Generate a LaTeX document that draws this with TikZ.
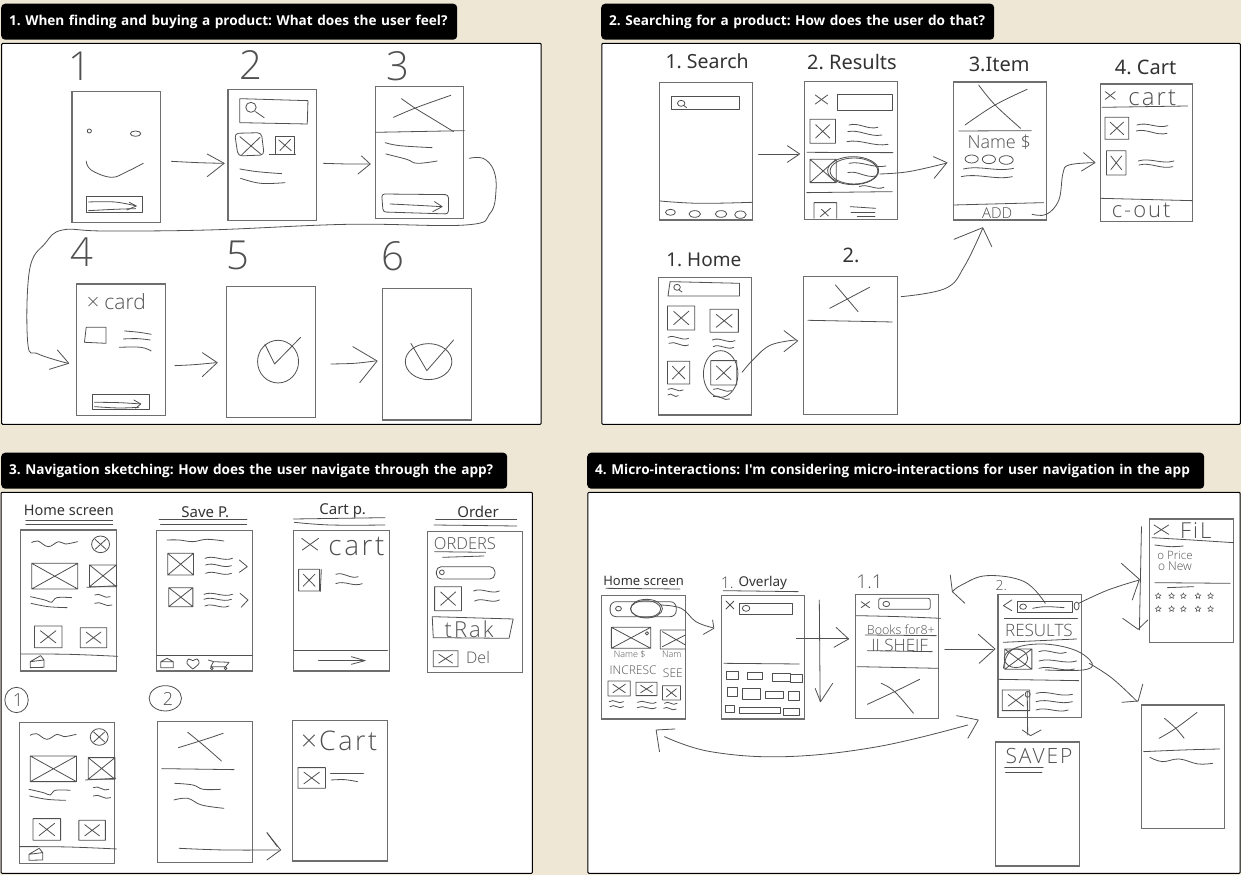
\documentclass[tikz,border=0pt]{standalone}
\usepackage{fontspec}
\usetikzlibrary{calc,shapes.geometric}
\setmainfont{Noto Sans}
\newfontfamily\hand{Open Sans Light}
\newfontfamily\handwide[LetterSpace=9]{Open Sans Light}
\newfontfamily\ttl{Open Sans}
\definecolor{paper}{HTML}{EFE7D6}
\definecolor{inkc}{HTML}{505050}
\definecolor{framec}{HTML}{6E6E6E}
\tikzset{
 ink/.style={draw=inkc,line width=.8pt,line cap=round,line join=round},
 frame/.style={draw=framec,line width=1.1pt},
 panel/.style={draw=black,line width=1pt,fill=white,rounded corners=1pt},
 titlebox/.style={fill=black,text=white,rounded corners=4pt,anchor=north west,minimum height=36pt,inner xsep=8pt,inner ysep=0pt,align=left,font=\ttl\bfseries\fontsize{13.6}{15}\selectfont},
 printed/.style={inner sep=0pt,text=black!80},
 handtext/.style={inner sep=0pt,text=inkc},
 rate/.style={star,star points=5,star point ratio=2.1,draw=inkc,line width=.5pt,inner sep=0pt,minimum size=6pt}
}
\newcommand\sk[1]{\draw[ink] plot[smooth,tension=.65] coordinates {#1};}
\newcommand\pl[1]{\draw[ink] plot coordinates {#1};}
\newcommand\wv[4]{\draw[ink] (#1,#2) .. controls ($(#1,#2)!.33!(#3,#4)+(0,-11)$) and ($(#1,#2)!.66!(#3,#4)+(0,11)$) .. (#3,#4);}
\newcommand\scr[4]{\draw[frame] (#1,#2) rectangle (#3,#4);}
\newcommand\bx[4]{\draw[ink] (#1,#2) rectangle (#3,#4);}
\newcommand\imgx[4]{\draw[ink] (#1,#2) rectangle (#3,#4) (#1,#2) -- (#3,#4) (#1,#4) -- (#3,#2);}
\newcommand\imgs[4]{\draw[ink] (#1,#2) rectangle (#3,#4) ($(#1,#2)!.22!(#3,#4)$) -- ($(#1,#2)!.78!(#3,#4)$) ($(#1,#4)!.22!(#3,#2)$) -- ($(#1,#4)!.78!(#3,#2)$);}
\newcommand\el[4]{\draw[ink] (#1,#2) ellipse [x radius=#3,y radius=#4];}
\newcommand\hw[4]{\node[handtext,font=\hand\fontsize{#3}{#3}\selectfont] (#1) at (#2) {#4};}
\newcommand\hz[4]{\node[handtext,font=\handwide\fontsize{#3}{#3}\selectfont] (#1) at (#2) {#4};}
\newcommand\pr[4]{\node[printed,font=\fontsize{#3}{#3}\selectfont] (#1) at (#2) {#4};}
\newcommand\homeSketch{%
 \sk{(92,293)(110,288)(140,305)(170,290)(190,297)(225,290)}
 \el{292}{298}{26}{25}
 \pl{(276,283)(308,313)} \pl{(276,313)(308,283)}
 \imgx{92}{355}{226}{432}
 \imgx{260}{360}{338}{425}
 \pl{(252,427)(340,422)}
 \sk{(88,455)(130,465)(150,472)(165,458)(208,458)}
 \sk{(90,475)(140,485)(195,488)}
 \wv{275}{450}{320}{455}
 \wv{275}{475}{325}{480}
 \imgs{100}{543}{180}{608}
 \imgs{233}{548}{310}{608}
 \sk{(60,627)(200,628)(342,634)}
 \pl{(88,650)(128,645)(128,667)(88,668)(88,650)(118,632)(128,645)}
}
\begin{document}
\frenchspacing
\begin{tikzpicture}[x=1pt,y=-1pt]
\useasboundingbox (0,0) rectangle (1241,875);
\fill[paper] (0,0) rectangle (1241,875);
% titles
\node[titlebox,text width=440pt] (t1) at (1,3.5) {1. When finding and buying a product: What does the user feel?};
\node[titlebox,text width=377pt] (t2) at (601,3.5) {2. Searching for a product: How does the user do that?};
\node[titlebox,text width=490pt] (t3) at (1,452.5) {3. Navigation sketching: How does the user navigate through the app?};
\node[titlebox,text width=601pt] (t4) at (587,452.5) {4. Micro-interactions: I'm considering micro-interactions for user navigation in the app};
% ---------- panel 1
\begin{scope}[shift={(0,0)},x=.3476pt,y=-.3333pt]
\draw[panel] (5,130) rectangle (1557,1273);
\hw{a1}{231,200}{40}{1}
\hw{a2}{722,195}{40}{2}
\hw{a3}{1145,200}{40}{3}
\hw{a4}{235,758}{40}{4}
\hw{a5}{685,765}{40}{5}
\hw{a6}{1130,770}{40}{6}
\scr{207}{275}{462}{668}\scr{656}{268}{910}{662}\scr{1080}{260}{1334}{655}
\scr{220}{852}{476}{1247}\scr{652}{859}{908}{1253}\scr{1100}{866}{1356}{1260}
% A
\el{257}{393}{6}{6}\el{390}{401}{15}{8}
\sk{(248,483)(262,510)(320,532)(365,515)(412,490)}
\bx{249}{589}{409}{636}
\sk{(255,606)(330,606)(392,618)}\pl{(372,607)(392,618)(365,630)}\sk{(255,632)(330,628)(390,626)}
\sk{(493,484)(570,488)(640,490)}\pl{(596,462)(645,490)(596,530)}
% B
\draw[ink] (690,296)--(886,302)--(884,372)--(690,368)--cycle;
\el{722}{322}{15}{15}\pl{(735,335)(760,353)}
\draw[ink,rounded corners=4pt] (675,400)--(752,398)--(760,465)--(685,468)--cycle;
\pl{(690,410)(750,462)}\pl{(695,465)(748,412)}
\bx{792}{408}{846}{463}\pl{(802,420)(838,452)}\pl{(805,452)(836,418)}\pl{(775,462)(850,462)}
\sk{(690,507)(740,515)(810,521)}\sk{(692,535)(750,550)(820,548)}
\sk{(930,490)(1000,492)(1065,492)}\pl{(1040,468)(1065,492)(1030,522)}
% C
\pl{(1080,397)(1336,392)}
\sk{(1155,296)(1195,325)(1250,360)(1305,395)}\sk{(1132,352)(1200,322)(1297,286)}
\sk{(1108,428)(1150,437)(1243,443)}\sk{(1110,462)(1170,478)(1200,490)(1258,483)}
\draw[ink,rounded corners=3pt] (1098,582)--(1290,584)--(1290,642)--(1102,636)--cycle;
\sk{(1122,612)(1200,616)(1270,620)}\pl{(1250,605)(1272,620)(1245,635)}
\sk{(1350,475)(1390,475)(1420,510)(1427,570)(1410,640)(1340,675)(1000,673)(600,690)(300,693)(180,690)(130,730)(85,810)(80,1030)(110,1062)(195,1090)}
\pl{(165,1050)(198,1090)(142,1108)}
% D
\hw{a7}{335,906}{21}{× card}
\draw[ink] (248,982)--(305,982)--(305,1030)--(243,1027)--cycle;
\sk{(358,993)(400,997)(435,1003)}\sk{(355,1017)(395,1016)(432,1020)}\sk{(343,1042)(405,1042)(435,1053)}
\bx{266}{1184}{429}{1228}
\sk{(272,1207)(340,1208)(405,1212)}\pl{(385,1200)(405,1212)(390,1225)}\sk{(272,1220)(340,1224)(400,1222)}
\sk{(503,1097)(560,1094)(622,1088)}\pl{(582,1058)(625,1088)(582,1130)}
% E
\el{800}{1085}{59}{64}\pl{(762,1033)(790,1092)(865,1012)}
\sk{(952,1092)(1020,1090)(1080,1083)}\pl{(1015,1040)(1085,1083)(1035,1148)}
% F
\el{1233}{1085}{67}{54}\pl{(1182,1030)(1228,1112)(1305,1020)}
\end{scope}
% ---------- panel 2
\begin{scope}[shift={(596,0)},x=.4114pt,y=-.3333pt]
\draw[panel] (14,130) rectangle (1566,1273);
\pr{b1}{270,185}{19.5}{1. Search}
\pr{b2}{622,186}{20}{2. Results}
\pr{b3}{980,193}{20}{3.Item}
\pr{b4}{1336,203}{20}{4. Cart}
\pr{b5}{262,780}{19}{1. Home}
\pr{b6}{620,767}{20}{2.}
\scr{155}{248}{380}{660}\scr{507}{245}{732}{658}\scr{870}{246}{1094}{660}\scr{1226}{252}{1449}{665}\scr{152}{832}{378}{1245}\scr{505}{829}{732}{1243}
% search
\bx{183}{288}{349}{328}\el{207}{310}{9}{9}\pl{(213,316)(220,323)}
\sk{(155,603)(250,610)(380,607)}
\el{181}{637}{12}{9}\el{240}{642}{14}{10}\el{304}{642}{14}{10}\el{351}{644}{14}{11}
\pl{(395,463)(490,463)}\pl{(465,437)(495,462)(465,487)}
% results
\pl{(533,285)(563,312)}\pl{(533,312)(563,285)}
\bx{587}{283}{720}{332}
\imgs{520}{358}{582}{430}
\wv{615}{375}{685}{382}\wv{612}{395}{695}{405}\wv{610}{425}{710}{433}
\pl{(513,457)(722,458)}
\imgx{520}{478}{584}{548}
\wv{615}{490}{705}{498}\wv{612}{518}{680}{528}\wv{640}{560}{700}{562}
\el{625}{512}{62}{42}\el{627}{513}{58}{39}
\pl{(512,578)(720,575)}
\draw[ink] (530,655)--(530,608)--(585,608)--(585,655) (545,650)--(570,625) (548,628)--(565,648);
\pl{(618,620)(680,625)}\pl{(620,637)(678,637)}\pl{(635,648)(678,648)}
\sk{(690,522)(760,515)(850,490)}\pl{(820,470)(853,488)(822,535)}
% item
\sk{(930,255)(970,315)(1032,385)}\sk{(897,375)(970,315)(1048,268)}
\pl{(882,393)(1058,392)}
\hw{b7}{980,428}{18}{Name \$}
\el{913}{477}{16}{12}\el{955}{478}{16}{13}\el{997}{480}{17}{13}
\wv{893}{507}{1015}{505}\wv{888}{530}{1012}{530}
\pl{(870,615)(1088,608)}
\hw{b8}{975,640}{15}{ADD}
\sk{(1060,643)(1095,643)(1125,600)(1135,520)(1150,495)(1210,488)}\pl{(1185,458)(1213,488)(1180,513)}
% cart
\pl{(1238,275)(1262,298)}\pl{(1238,298)(1262,275)}
\hz{b9}{1352,293}{24}{cart}
\pl{(1230,322)(1438,318)}
\imgs{1237}{352}{1295}{418}
\wv{1315}{375}{1390}{377}\wv{1313}{393}{1388}{400}
\imgs{1241}{452}{1288}{525}
\wv{1318}{483}{1405}{483}\wv{1320}{495}{1402}{500}
\pl{(1226,595)(1449,602)}
\hz{b10}{1325,632}{22}{c-out}
% home
\draw[ink] (180,845)--(349,850)--(349,888)--(175,888)--cycle;
\el{197}{862}{8}{9}\pl{(202,870)(209,876)}
\imgs{174}{918}{240}{990}\imgs{277}{928}{346}{997}
\wv{175}{1012}{225}{1015}\wv{177}{1030}{225}{1035}
\wv{283}{1020}{338}{1022}\wv{285}{1040}{335}{1042}
\imgs{174}{1084}{228}{1152}\imgs{279}{1082}{342}{1155}
\el{303}{1122}{42}{70}
\wv{175}{1168}{212}{1170}\wv{175}{1185}{200}{1187}
\wv{285}{1168}{330}{1172}\wv{285}{1190}{325}{1197}
\sk{(355,1117)(385,1075)(425,1035)(485,1020)}\pl{(457,992)(490,1023)(457,1055)}
% 2.
\pl{(582,855)(637,935)}\pl{(568,925)(665,862)}\pl{(515,961)(720,966)}
\sk{(742,890)(850,865)(895,800)(940,685)}\pl{(870,718)(940,683)(962,740)}
\end{scope}
% ---------- panel 3
\begin{scope}[shift={(0,445)},x=.3444pt,y=-.3333pt]
\draw[panel] (3,142) rectangle (1546,1285);
\pr{c1}{200,196}{14.5}{Home screen}
\pr{c2}{596,202}{15}{Save P.}
\pr{c3}{995,199}{15}{Cart p.}
\pr{c4}{1388,202}{15}{Order}
\pl{(75,225)(327,225)}\pl{(75,237)(327,237)}
\pl{(462,223)(717,223)}\pl{(466,237)(716,237)}
\pl{(852,222)(1118,218)}\sk{(855,232)(960,240)(1118,240)}
\pl{(1265,222)(1500,222)}\pl{(1260,240)(1500,243)}
\scr{60}{255}{338}{678}\scr{455}{257}{732}{678}\scr{853}{257}{1130}{678}\scr{1242}{260}{1518}{682}
\scr{57}{832}{332}{1255}\scr{457}{830}{732}{1252}\scr{850}{827}{1126}{1248}
\homeSketch
\begin{scope}[shift={(-4,578)}]\homeSketch\end{scope}
% save
\sk{(485,285)(520,285)(560,290)(600,283)(650,288)}
\imgx{487}{325}{562}{390}
\wv{595}{340}{675}{340}\wv{597}{360}{672}{362}\wv{597}{385}{672}{385}\pl{(695,345)(718,365)(695,382)}
\imgx{490}{428}{560}{485}
\wv{592}{448}{675}{448}\wv{592}{463}{672}{463}\wv{595}{483}{665}{483}\pl{(697,445)(720,465)(700,487)}
\pl{(455,632)(732,632)}
\pl{(467,650)(503,650)(503,668)(467,668)(467,650)(485,640)(503,650)}
\sk{(560,672)(543,655)(548,642)(560,647)(572,642)(578,655)(560,672)}
\pl{(605,645)(620,650)(665,652)(655,665)(612,665)(620,650)}\el{615}{670}{4}{4}\el{655}{670}{4}{4}
% cart p
\pl{(876,280)(922,315)}\pl{(878,315)(925,280)}
\hz{c5}{1035,303}{28}{cart}
\imgs{867}{373}{928}{438}\pl{(933,373)(930,440)}
\wv{975}{388}{1040}{395}\wv{975}{416}{1052}{416}
\pl{(853,615)(1125,615)}
\pl{(925,647)(1060,647)}\pl{(1020,635)(1060,647)(1020,658)}
% order
\hw{c6}{1350,295}{16.5}{ORDERS}
\pl{(1262,320)(1410,322)}\pl{(1285,337)(1405,333)}
\draw[ink,rounded corners=5pt] (1267,365) rectangle (1437,402);
\el{1283}{382}{7}{7}
\imgs{1262}{425}{1340}{497}
\wv{1375}{438}{1450}{438}\wv{1378}{468}{1450}{465}
\draw[ink] (1255,515)--(1490,522)--(1478,580)--(1258,578)--cycle;
\hz{c7}{1362,552}{22}{tRak}
\imgs{1258}{617}{1330}{665}
\hw{c8}{1388,638}{16}{Del}
% circled numbers
\el{48}{765}{34}{38}\hw{c9}{52,765}{18}{1}
\el{480}{760}{47}{38}\hw{c10}{488,762}{18}{2}
% bottom middle
\sk{(545,862)(590,900)(643,948)}\sk{(518,908)(590,885)(648,865)}
\pl{(470,971)(680,974)}
\sk{(507,1015)(560,1020)(590,1033)(640,1033)}\sk{(505,1065)(545,1060)(585,1080)(650,1090)}
\sk{(520,1210)(650,1215)(810,1215)}\pl{(775,1163)(815,1215)(775,1245)}\pl{(775,1163)(805,1205)}
% bottom cart
\hz{c11}{985,888}{27}{×Cart}
\imgs{865}{968}{945}{1030}
\pl{(960,985)(1055,985)}\sk{(962,1005)(1000,1004)(1038,1010)}
\end{scope}
% ---------- panel 4
\begin{scope}[shift={(585,445)},x=.4184pt,y=-.3333pt]
\draw[panel] (7,142) rectangle (1566,1285);
\pr{d1}{140,407}{13}{Home screen}
\pr{d2}{425,415}{13.5}{Overlay}
\hw{d3}{340,415}{16}{1.}
\hw{d4}{680,410}{19}{1.1}
\hw{d5}{995,422}{14}{2.}
\pl{(50,430)(227,432)}\pl{(330,437)(510,440)}
\scr{40}{452}{240}{822}\scr{327}{452}{525}{822}\scr{647}{448}{845}{820}\scr{987}{448}{1187}{818}
\scr{1349}{222}{1549}{592}\scr{1330}{780}{1529}{1151}\scr{982}{891}{1181}{1263}
% home
\draw[ink,rounded corners=6pt] (60,470) rectangle (218,515);
\el{80}{491}{7}{7}\el{147}{491}{38}{28}\el{145}{492}{36}{25}
\imgx{63}{547}{157}{610}\el{148}{565}{4}{5}
\draw[ink] (240,555)--(180,555)--(180,612)--(240,612) (185,560)--(240,600) (185,605)--(240,570);
\hw{d6}{107,627}{9}{Name \$}
\hw{d7}{207,627}{9}{Nam}
\hw{d8}{115,677}{12}{INCRESC}
\hw{d9}{210,685}{12}{SEE}
\imgs{55}{708}{108}{753}\imgs{122}{712}{172}{752}\imgs{185}{722}{228}{765}
\wv{58}{770}{92}{770}\wv{60}{785}{92}{785}
\wv{125}{772}{170}{772}\wv{125}{788}{170}{788}
\wv{190}{775}{220}{775}\wv{188}{790}{218}{792}
\sk{(180,480)(230,490)(265,530)(305,548)}\pl{(305,525)(308,550)(283,568)}
% overlay
\pl{(337,468)(356,492)}\pl{(337,492)(356,468)}
\bx{369}{475}{495}{507}\el{385}{490}{9}{9}
\pl{(332,655)(512,657)}
\bx{338}{680}{367}{703}\bx{388}{682}{423}{703}\bx{448}{685}{490}{708}\bx{490}{688}{520}{712}
\bx{340}{727}{365}{753}\bx{375}{730}{420}{762}\bx{430}{738}{475}{760}\bx{485}{738}{512}{765}
\bx{336}{782}{358}{802}\bx{370}{788}{467}{806}\bx{473}{790}{512}{812}
\pl{(505,580)(630,580)}\pl{(600,547)(630,582)(595,607)}
\pl{(560,465)(562,770)}\pl{(550,730)(563,770)(592,715)}
% 1.1
\pl{(660,470)(680,488)}\pl{(660,488)(680,470)}
\draw[ink,rounded corners=2pt] (702,460) rectangle (825,493);
\el{720}{477}{8}{8}
\sk{(648,512)(750,515)(850,520)}
\hw{d10}{755,553}{12.5}{Books for8+}
\pl{(670,570)(840,572)}
\hw{d11}{752,600}{17}{II SHEIF}
\pl{(675,617)(830,620)}
\pl{(650,665)(845,670)}
\sk{(675,778)(740,740)(800,703)}\sk{(708,715)(740,740)(785,805)}
\pl{(860,612)(975,612)}\pl{(940,568)(980,612)(942,655)}
% results
\pl{(1020,465)(1000,482)(1020,497)}
\bx{1033}{468}{1165}{502}\el{1047}{485}{8}{8}
\sk{(1070,490)(1100,485)(1145,488)}
\el{1175}{483}{6}{12}
\pl{(1002,520)(1177,520)}
\hw{d12}{1085,555}{17}{RESULTS}
\pl{(1000,592)(1175,582)}
\imgx{1003}{612}{1068}{673}\el{1030}{640}{28}{28}
\wv{1085}{620}{1150}{622}\wv{1085}{648}{1175}{648}\wv{1085}{670}{1170}{672}
\sk{(1000,670)(1020,615)(1090,597)(1170,615)(1212,655)(1190,675)(1100,675)}
\pl{(987,703)(1180,707)}
\imgs{997}{735}{1063}{797}\el{1058}{748}{6}{9}
\wv{1078}{745}{1165}{748}\wv{1078}{770}{1165}{770}\wv{1078}{795}{1155}{795}
\sk{(1180,475)(1250,435)(1325,405)}\pl{(1282,355)(1325,403)(1308,465)}
\pl{(1330,245)(1325,555)}\pl{(1285,520)(1322,553)(1345,525)}
\sk{(1100,475)(1050,410)(960,392)(900,420)(878,440)}\pl{(873,390)(878,440)(908,475)}
\sk{(1205,655)(1260,700)(1320,770)}\pl{(1283,772)(1322,768)(1333,718)}
\pl{(1057,740)(1058,870)}\pl{(1045,855)(1065,872)(1090,855)}
\sk{(190,875)(300,920)(480,935)(700,905)(915,840)}\pl{(178,920)(170,855)(215,852)}\pl{(888,812)(940,825)(915,880)}
% filter
\pl{(1360,240)(1395,268)}\pl{(1360,268)(1395,240)}
\hz{d13}{1460,257}{22}{FiL}
\sk{(1355,278)(1450,285)(1550,293)}
\sk{(1362,300)(1400,305)(1430,303)}
\hw{d14}{1410,332}{11.5}{o Price}
\hw{d15}{1410,365}{12}{o New}
\pl{(1362,413)(1542,415)}\pl{(1392,428)(1455,425)}
\foreach \sx in {1370,1402,1430,1465,1495}{\foreach \sy in {453,492}{\node[rate] (st\sx-\sy) at (\sx,\sy) {};}}
% detail
\sk{(1372,880)(1412,850)(1463,802)}\sk{(1385,820)(1412,850)(1432,880)}
\sk{(1335,920)(1430,915)(1517,912)}
\sk{(1350,937)(1380,950)(1420,942)(1465,957)(1500,955)}
% saved
\hz{d16}{1085,932}{21}{SAVEP}
\pl{(1003,968)(1095,968)}\pl{(1005,983)(1092,983)}
\end{scope}
\end{tikzpicture}
\end{document}
